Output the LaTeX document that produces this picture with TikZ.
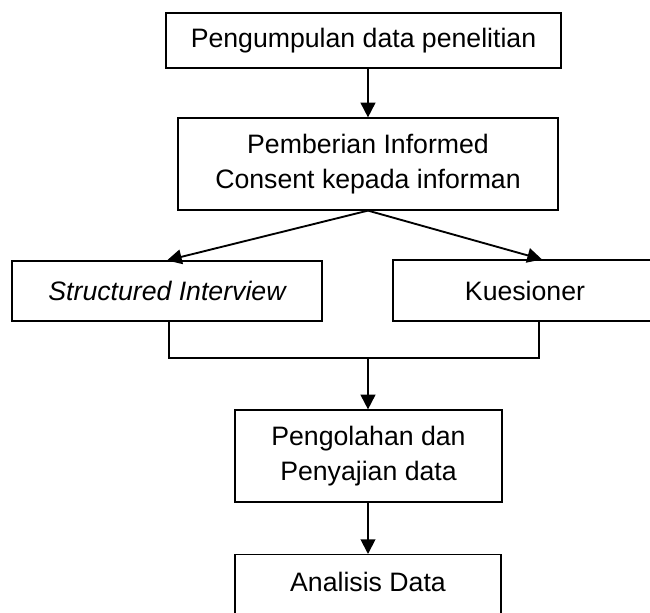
\documentclass[tikz,border=0pt]{standalone}
\usepackage{fontspec}
\setmainfont{Liberation Sans}
\usetikzlibrary{arrows.meta}

\begin{document}
\begin{tikzpicture}[
			x=0.75pt, y=-0.75pt,
			font=\fontsize{20}{26}\selectfont,
			box/.style = {draw, line width=0.9pt, inner sep=0pt, align=center},
			arr/.style = {line width=1.4pt, -{Triangle[length=11pt, width=11pt]}},
			link/.style = {line width=1.4pt}
		]
		\useasboundingbox (0,0) rectangle (650,612);
		\clip (0,0) rectangle (650,612);
		\node[box, minimum width=296.25pt, minimum height=41.25pt] (kumpul) at (363.5,40.5) {Pengumpulan data penelitian};
		\node[box, minimum width=285pt, minimum height=69pt] (consent) at (368,164) {Pemberian Informed\\Consent kepada informan};
		\node[box, minimum width=232.5pt, minimum height=45pt] (interview) at (167,291) {\itshape Structured Interview};
		\node[box, minimum width=198pt, minimum height=45.75pt] (kuesioner) at (525,290.5) {Kuesioner};
		\node[box, minimum width=200.25pt, minimum height=69pt] (olah) at (368.5,456) {Pengolahan dan\\Penyajian data};
		\node[box, minimum width=199.5pt, anchor=north, inner ysep=13.5pt, text height=14.5pt, text depth=30pt] (analisis) at (368,554) {Analisis Data};
		\coordinate (jl) at (169,358);
		\coordinate (jr) at (539,358);
		\coordinate (jm) at (368,358);
		% Draw the main flow.
		\draw[arr] (kumpul.south -| consent.north) -- (consent.north);
		\draw[arr] (consent.south) -- (interview.north);
		\draw[arr] (consent.south) -- ([xshift=12.75pt]kuesioner.north);
		% Draw the join under the two methods.
		\draw[link] (interview.south -| jl) -- (jl) -- (jr) -- (kuesioner.south -| jr);
		\draw[arr] (jm) -- (olah.north -| jm);
		\draw[arr] (olah.south -| analisis.north) -- (analisis.north);
	\end{tikzpicture}
\end{document}
